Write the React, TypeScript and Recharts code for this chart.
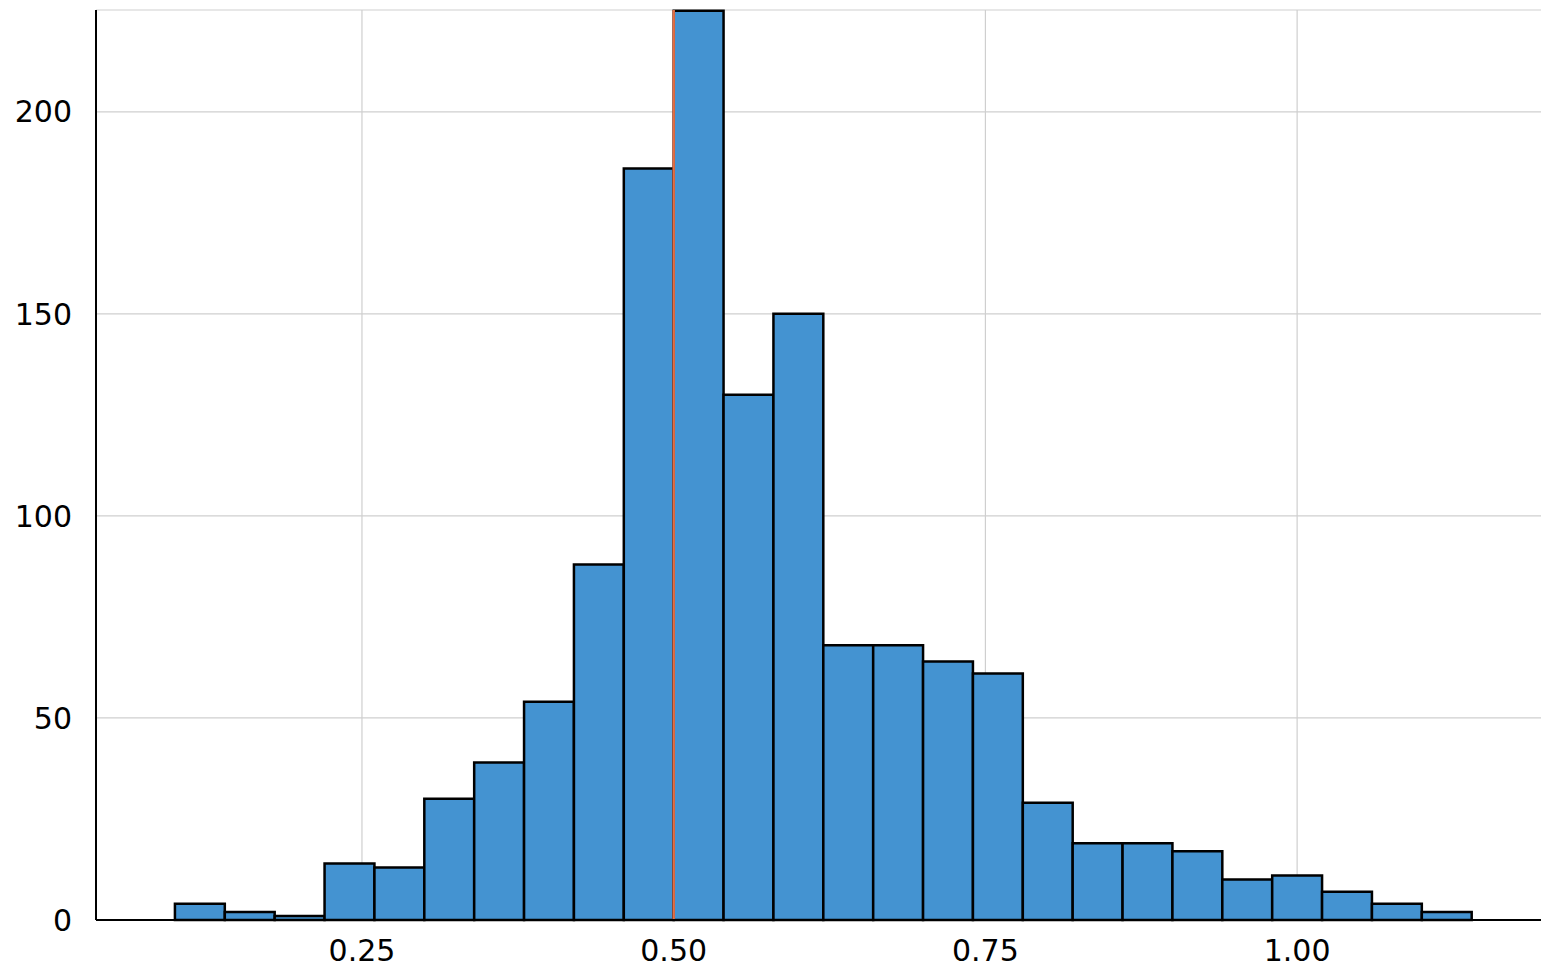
import React from "react";
import {
  ComposedChart,
  XAxis,
  YAxis,
  CartesianGrid,
  ReferenceArea,
  ReferenceLine,
} from "recharts";

const binStarts = [
  0.1, 0.14, 0.18, 0.22, 0.26, 0.3, 0.34, 0.38, 0.42, 0.46, 0.5, 0.54, 0.58,
  0.62, 0.66, 0.7, 0.74, 0.78, 0.82, 0.86, 0.9, 0.94, 0.98, 1.02, 1.06, 1.1,
];
const counts = [
  4, 2, 1, 14, 13, 30, 39, 54, 88, 186, 225, 130, 150, 68, 68, 64, 61, 29, 19,
  19, 17, 10, 11, 7, 4, 2,
];
const binWidth = 0.04;
const xTicks = [0.25, 0.5, 0.75, 1.0];
const yTicks = [0, 50, 100, 150, 200];
const markerX = 0.5;

const tickStyle = { fill: "#000", fontSize: 30, fontFamily: "DejaVu Sans" };

export default function App() {
  return (
    <ComposedChart
      width={1541}
      height={962}
      data={[{ x: 0 }]}
      margin={{ top: 2, right: 0, bottom: 20, left: 0 }}
    >
      <CartesianGrid stroke="#cfcfcf" strokeWidth={1.2} />
      <XAxis
        type="number"
        dataKey="x"
        domain={[0.0367, 1.202]}
        ticks={xTicks}
        tickFormatter={(v) => v.toFixed(2)}
        tick={tickStyle}
        tickLine={false}
        tickMargin={14}
        axisLine={{ stroke: "#000", strokeWidth: 2 }}
        allowDataOverflow
      />
      <YAxis
        type="number"
        domain={[0, 225.2]}
        ticks={yTicks}
        tick={tickStyle}
        tickLine={false}
        tickMargin={18}
        width={88}
        axisLine={{ stroke: "#000", strokeWidth: 2 }}
        allowDataOverflow
      />
      {binStarts.map((s, i) => (
        <ReferenceArea
          key={i}
          x1={s}
          x2={s + binWidth}
          y1={0}
          y2={counts[i]}
          fill="#4493d1"
          fillOpacity={1}
          stroke="#000"
          strokeWidth={2.5}
          ifOverflow="visible"
        />
      ))}
      <ReferenceLine x={markerX} stroke="#e26f46" strokeWidth={2.5} />
    </ComposedChart>
  );
}
